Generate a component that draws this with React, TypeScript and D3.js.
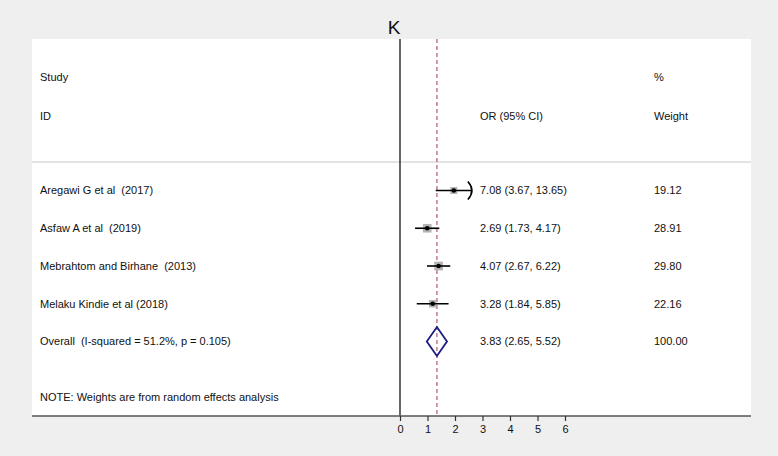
import { useEffect, useRef } from "react";
import * as d3 from "d3";

const studies = [
  "Aregawi G et al  (2017)",
  "Asfaw A et al  (2019)",
  "Mebrahtom and Birhane  (2013)",
  "Melaku Kindie et al (2018)",
];
const orValues = [7.08, 2.69, 4.07, 3.28];
const lowerCI = [3.67, 1.73, 2.67, 1.84];
const upperCI = [13.65, 4.17, 6.22, 5.85];
const weights = [19.12, 28.91, 29.8, 22.16];

const overallLabel = "Overall  (I-squared = 51.2%, p = 0.105)";
const overall = { or: 3.83, lo: 2.65, hi: 5.52, weight: 100.0 };

const xTicks = [0, 1, 2, 3, 4, 5, 6];

const W = 778;
const H = 456;
const FONT = "'Liberation Sans', Arial, sans-serif";

const App = () => {
  const svgRef = useRef<SVGSVGElement | null>(null);

  useEffect(() => {
    const svg = d3.select(svgRef.current).attr("width", W).attr("height", H);
    svg.selectAll("*").remove();

    const panel = { left: 32, right: 751, top: 39, bottom: 416 };

    svg.append("rect").attr("width", W).attr("height", H).attr("fill", "#efefef");
    svg
      .append("rect")
      .attr("x", panel.left)
      .attr("y", panel.top)
      .attr("width", panel.right - panel.left)
      .attr("height", panel.bottom - panel.top)
      .attr("fill", "#ffffff");

    svg
      .append("text")
      .attr("x", 394)
      .attr("y", 34)
      .attr("text-anchor", "middle")
      .style("font-family", FONT)
      .style("font-size", "19px")
      .attr("fill", "#111")
      .text("K");

    // x is plotted on ln(OR)
    const x = d3.scaleLinear().domain([0, 6]).range([400, 565]);

    const rows = [...studies, overallLabel];
    const y = d3
      .scalePoint<string>()
      .domain(rows)
      .range([190.5, 341.5]);

    const text = (tx: number, ty: number, s: string) =>
      svg
        .append("text")
        .attr("x", tx)
        .attr("y", ty)
        .attr("dy", "0.35em")
        .style("font-family", FONT)
        .style("font-size", "11px")
        .style("white-space", "pre")
        .attr("fill", "#111")
        .text(s);

    // headers
    text(40, 77, "Study");
    text(40, 116, "ID");
    text(480, 116, "OR (95% CI)");
    text(654, 77, "%");
    text(654, 116, "Weight");

    svg
      .append("line")
      .attr("x1", panel.left)
      .attr("x2", panel.right)
      .attr("y1", 162)
      .attr("y2", 162)
      .attr("stroke", "#c8c8c8")
      .attr("stroke-width", 1.2);

    // null line
    svg
      .append("line")
      .attr("x1", x(0))
      .attr("x2", x(0))
      .attr("y1", panel.top)
      .attr("y2", panel.bottom)
      .attr("stroke", "#000")
      .attr("stroke-width", 1.2);

    // overall effect line
    svg
      .append("line")
      .attr("x1", x(Math.log(overall.or)))
      .attr("x2", x(Math.log(overall.or)))
      .attr("y1", panel.top)
      .attr("y2", panel.bottom)
      .attr("stroke", "#b05a6a")
      .attr("stroke-width", 1.2)
      .attr("stroke-dasharray", "4,3");

    const fmt = d3.format(".2f");

    studies.forEach((s, i) => {
      const cy = y(s)!;
      const cx = x(Math.log(orValues[i]));
      const lo = x(Math.log(lowerCI[i]));
      const hi = x(Math.log(upperCI[i]));
      const side = Math.sqrt(weights[i]) * 1.6;

      svg
        .append("rect")
        .attr("x", cx - side / 2)
        .attr("y", cy - side / 2)
        .attr("width", side)
        .attr("height", side)
        .attr("fill", "#b4b4b4");

      svg
        .append("line")
        .attr("x1", lo)
        .attr("x2", hi)
        .attr("y1", cy)
        .attr("y2", cy)
        .attr("stroke", "#000")
        .attr("stroke-width", 1.6);

      if (upperCI[i] > 10) {
        svg
          .append("path")
          .attr("d", `M${hi - 4},${cy - 9} Q${hi + 4},${cy} ${hi - 4},${cy + 9}`)
          .attr("fill", "none")
          .attr("stroke", "#000")
          .attr("stroke-width", 1.6);
      }

      svg.append("circle").attr("cx", cx).attr("cy", cy).attr("r", 2.3).attr("fill", "#000");

      text(40, cy, s);
      text(480, cy, `${fmt(orValues[i])} (${fmt(lowerCI[i])}, ${fmt(upperCI[i])})`);
      text(654, cy, fmt(weights[i]));
    });

    // overall diamond
    const oy = y(overallLabel)!;
    const ox = x(Math.log(overall.or));
    const ol = x(Math.log(overall.lo));
    const oh = x(Math.log(overall.hi));
    svg
      .append("path")
      .attr("d", d3.line()([[ol, oy], [ox, oy - 14.5], [oh, oy], [ox, oy + 14.5]]) + "Z")
      .attr("fill", "none")
      .attr("stroke", "#1c1c80")
      .attr("stroke-width", 1.8);
    text(40, oy, overallLabel);
    text(480, oy, `${fmt(overall.or)} (${fmt(overall.lo)}, ${fmt(overall.hi)})`);
    text(654, oy, fmt(overall.weight));

    text(40, 397, "NOTE: Weights are from random effects analysis");

    // axis
    svg
      .append("line")
      .attr("x1", panel.left)
      .attr("x2", panel.right)
      .attr("y1", panel.bottom)
      .attr("y2", panel.bottom)
      .attr("stroke", "#555")
      .attr("stroke-width", 1.5);

    const axis = svg.append("g").attr("transform", `translate(0,${panel.bottom})`);
    axis
      .call(d3.axisBottom(x).tickValues(xTicks).tickSize(5).tickPadding(4).tickFormat(d3.format("d")))
      .call((g) => g.select(".domain").remove());
    axis.selectAll("line").attr("stroke", "#333").attr("stroke-width", 1.2);
    axis
      .selectAll("text")
      .style("font-family", FONT)
      .style("font-size", "11px")
      .attr("fill", "#111");
  }, []);

  return (
    <div style={{ position: "absolute", left: 0, top: 0 }}>
      <svg ref={svgRef} style={{ display: "block" }} />
    </div>
  );
};

export default App;
